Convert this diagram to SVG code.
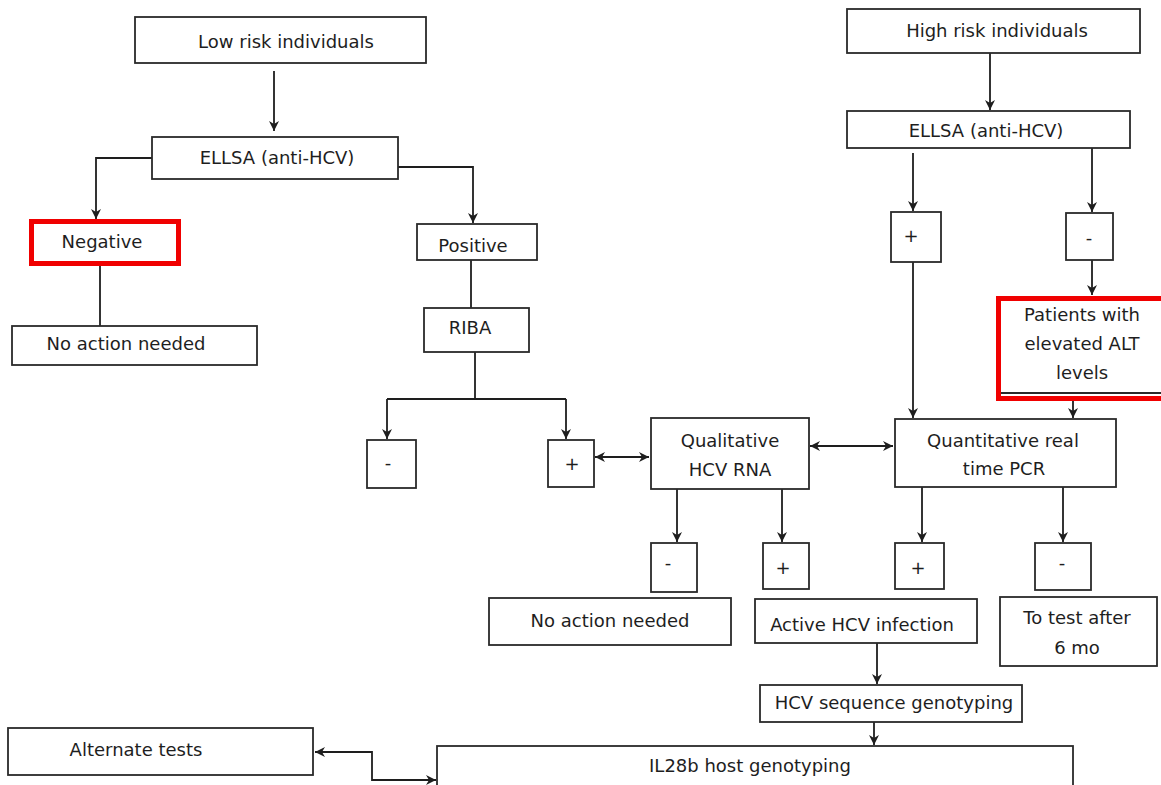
<svg xmlns="http://www.w3.org/2000/svg" width="1161" height="785" viewBox="0 0 1161 785">
<style>
.b{fill:#fff;stroke:#2a2a2a;stroke-width:1.8}
.r{fill:#fff;stroke:#f00000;stroke-width:5}
.t{font-family:"DejaVu Sans",Verdana,sans-serif;font-size:18px;fill:#1e1e1e;text-anchor:middle}
.c{fill:none;stroke:#1e1e1e;stroke-width:1.8}
</style>
<defs>
<marker id="ah" markerUnits="userSpaceOnUse" markerWidth="12" markerHeight="10" refX="10" refY="5" orient="auto-start-reverse">
<path d="M0,0 L10,5 L0,10 L3,5 Z" fill="#1e1e1e"/>
</marker>
</defs>
<rect width="1161" height="785" fill="#fff"/>
<g id="connectors">
<path class="c" d="M274,71 V131" marker-end="url(#ah)"/>
<path class="c" d="M152,158 H96 V219" marker-end="url(#ah)"/>
<path class="c" d="M100,266 V326"/>
<path class="c" d="M398,167 H473 V223" marker-end="url(#ah)"/>
<path class="c" d="M471,260 V308"/>
<path class="c" d="M475,352 V399"/>
<path class="c" d="M387,399 H566"/>
<path class="c" d="M387,399 V439" marker-end="url(#ah)"/>
<path class="c" d="M566,399 V439" marker-end="url(#ah)"/>
<path class="c" d="M595,457 H649" marker-start="url(#ah)" marker-end="url(#ah)"/>
<path class="c" d="M810,446 H893" marker-start="url(#ah)" marker-end="url(#ah)"/>
<path class="c" d="M990,53 V110" marker-end="url(#ah)"/>
<path class="c" d="M913,153 V211" marker-end="url(#ah)"/>
<path class="c" d="M1092,148 V212" marker-end="url(#ah)"/>
<path class="c" d="M1092,260 V295" marker-end="url(#ah)"/>
<path class="c" d="M913,262 V418" marker-end="url(#ah)"/>
<path class="c" d="M1073,401 V418" marker-end="url(#ah)"/>
<path class="c" d="M677,489 V542" marker-end="url(#ah)"/>
<path class="c" d="M782,489 V542" marker-end="url(#ah)"/>
<path class="c" d="M922,487 V542" marker-end="url(#ah)"/>
<path class="c" d="M1063,487 V542" marker-end="url(#ah)"/>
<path class="c" d="M877,643 V684" marker-end="url(#ah)"/>
<path class="c" d="M874,722 V745" marker-end="url(#ah)"/>
<path class="c" d="M315,752 H372 V780 H436" marker-start="url(#ah)" marker-end="url(#ah)"/>
</g>
<g id="low-risk"><rect class="b" x="135" y="17" width="291" height="46"/><text class="t" x="286" y="48">Low risk individuals</text></g>
<g id="ellsa-left"><rect class="b" x="152" y="137" width="246" height="42"/><text class="t" x="277" y="164">ELLSA (anti-HCV)</text></g>
<g id="negative"><rect class="r" x="31.5" y="221.5" width="147" height="42"/><text class="t" x="102" y="248">Negative</text></g>
<g id="no-action-1"><rect class="b" x="12" y="326" width="245" height="39"/><text class="t" x="126" y="350">No action needed</text></g>
<g id="positive"><rect class="b" x="417" y="224" width="120" height="36"/><text class="t" x="473" y="252">Positive</text></g>
<g id="riba"><rect class="b" x="424" y="308" width="105" height="44"/><text class="t" x="470" y="334">RIBA</text></g>
<g id="riba-neg"><rect class="b" x="367" y="440" width="49" height="48"/><text class="t" x="388" y="469">-</text></g>
<g id="riba-pos"><rect class="b" x="548" y="440" width="46" height="47"/><text class="t" x="572" y="470">+</text></g>
<g id="qualitative"><rect class="b" x="651" y="418" width="158" height="71"/><text class="t" x="730" y="447">Qualitative</text><text class="t" x="730" y="476">HCV RNA</text></g>
<g id="quantitative"><rect class="b" x="895" y="419" width="221" height="68"/><text class="t" x="1003" y="447">Quantitative real</text><text class="t" x="1004" y="475">time PCR</text></g>
<g id="high-risk"><rect class="b" x="847" y="9" width="293" height="44"/><text class="t" x="997" y="37">High risk individuals</text></g>
<g id="ellsa-right"><rect class="b" x="847" y="111" width="283" height="37"/><text class="t" x="986" y="137">ELLSA (anti-HCV)</text></g>
<g id="high-pos"><rect class="b" x="891" y="212" width="50" height="50"/><text class="t" x="911" y="242">+</text></g>
<g id="high-neg"><rect class="b" x="1066" y="213" width="47" height="47"/><text class="t" x="1089" y="244">-</text></g>
<g id="patients"><rect class="r" x="998.5" y="298.5" width="170" height="100"/><line x1="1001" y1="393" x2="1161" y2="393" stroke="#2a2a2a" stroke-width="1.8"/><text class="t" x="1082" y="321">Patients with</text><text class="t" x="1082" y="350">elevated ALT</text><text class="t" x="1082" y="379">levels</text></g>
<g id="qual-neg"><rect class="b" x="651" y="543" width="46" height="49"/><text class="t" x="668" y="569">-</text></g>
<g id="qual-pos"><rect class="b" x="763" y="543" width="46" height="46"/><text class="t" x="783" y="574">+</text></g>
<g id="quant-pos"><rect class="b" x="895" y="543" width="49" height="46"/><text class="t" x="918" y="574">+</text></g>
<g id="quant-neg"><rect class="b" x="1035" y="543" width="56" height="47"/><text class="t" x="1062" y="569">-</text></g>
<g id="no-action-2"><rect class="b" x="489" y="598" width="242" height="47"/><text class="t" x="610" y="627">No action needed</text></g>
<g id="active"><rect class="b" x="755" y="599" width="222" height="44"/><text class="t" x="862" y="631">Active HCV infection</text></g>
<g id="retest"><rect class="b" x="1000" y="597" width="157" height="69"/><text class="t" x="1077" y="624">To test after</text><text class="t" x="1077" y="654">6 mo</text></g>
<g id="hcv-seq"><rect class="b" x="760" y="685" width="262" height="37"/><text class="t" x="894" y="709">HCV sequence genotyping</text></g>
<g id="il28b"><rect class="b" x="437" y="746" width="636" height="50"/><text class="t" x="750" y="772">IL28b host genotyping</text></g>
<g id="alternate"><rect class="b" x="8" y="728" width="305" height="47"/><text class="t" x="136" y="756">Alternate tests</text></g>
</svg>
